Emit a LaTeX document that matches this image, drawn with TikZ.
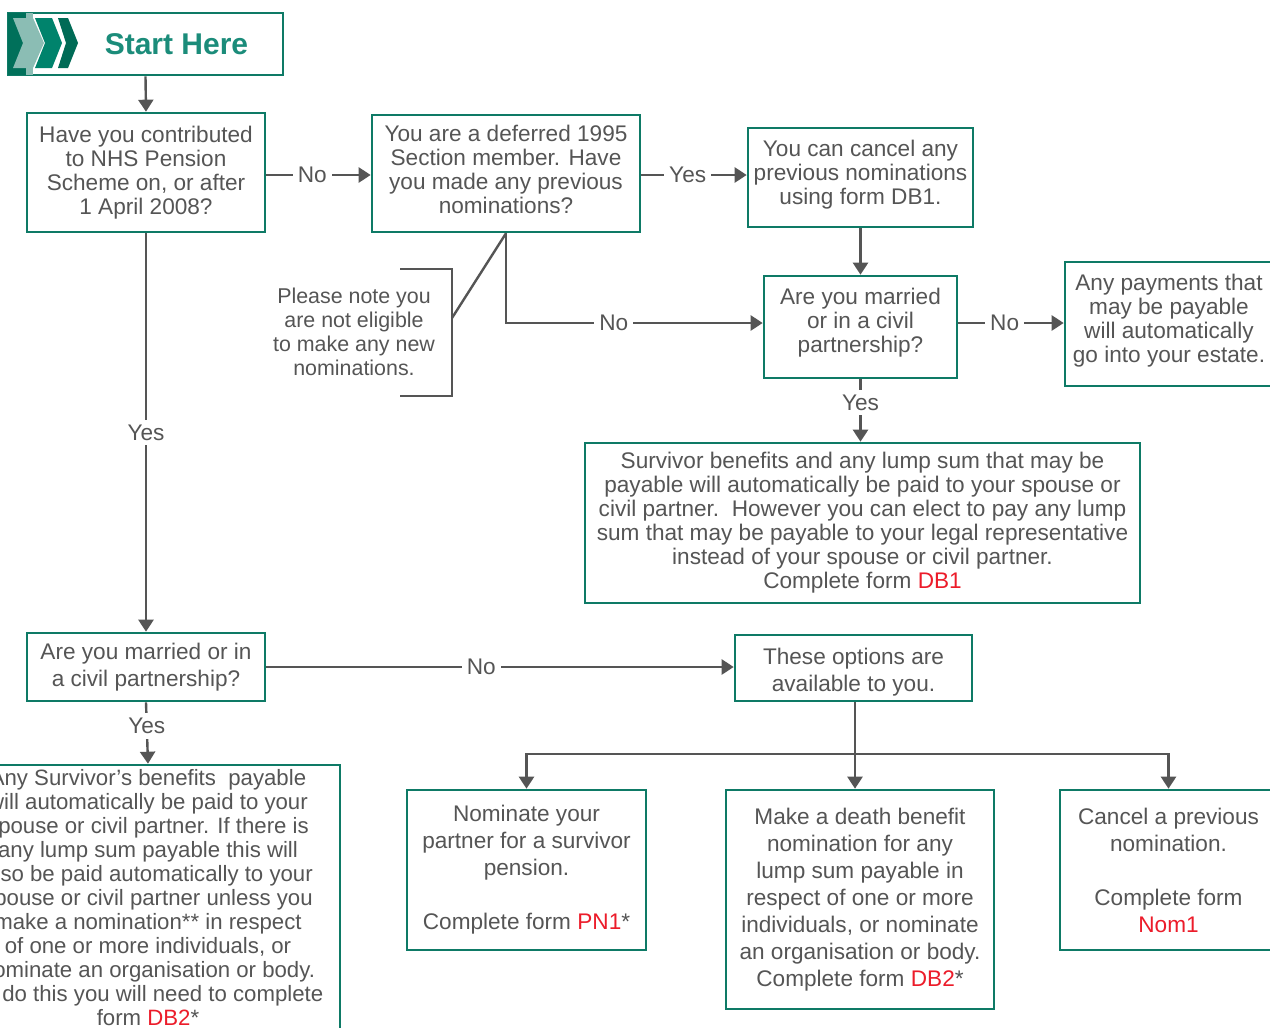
\documentclass[tikz,border=0pt]{standalone}
\usepackage{fontspec}
\setmainfont{Liberation Sans}
\usetikzlibrary{arrows.meta,calc}
\definecolor{bgreen}{HTML}{0E7A66}
\definecolor{tgray}{HTML}{555555}
\definecolor{agray}{HTML}{555555}
\definecolor{fred}{HTML}{EC1C2A}
\definecolor{sgreen}{HTML}{1B8C7A}
\definecolor{cdark}{HTML}{00705A}
\definecolor{clight}{HTML}{8BBDB4}
\definecolor{cmid}{HTML}{00836C}
\definecolor{cdeep}{HTML}{006B56}
\newcommand{\frm}[1]{\textcolor{fred}{#1}}
\tikzset{
  box/.style={draw=bgreen, line width=2.6pt, fill=white, text=tgray, align=center,
    inner sep=0pt, font=\fontsize{22.6}{24}\selectfont},
  boxb/.style={box, font=\fontsize{22.6}{27}\selectfont},
  arr/.style={draw=agray, line width=2.4pt, -{Triangle[width=15pt,length=12pt]}},
  plain/.style={draw=agray, line width=2.4pt},
  lab/.style={fill=white, text=tgray, inner sep=5pt, font=\fontsize{22.6}{24}\selectfont},
  note/.style={text=tgray, align=center, inner sep=0pt, font=\fontsize{21.4}{24}\selectfont}
}
\begin{document}
\begin{tikzpicture}[x=1pt,y=-1pt]
\useasboundingbox (0,0) rectangle (1270,1028);
\clip (0,0) rectangle (1270,1028);
\fill[white] (0,0) rectangle (1270,1028);

% Start Here
\node[box, minimum width=275pt, minimum height=62pt, text=sgreen,
  font=\fontsize{30}{36}\bfseries] (start) at (145.5,44) {\hspace*{62pt}Start Here};
\fill[cdark] (8,13) rectangle (26,75);
\fill[clight] (26,13) rectangle (33,75);
\fill[clight] (13,18) -- (33,18) -- (44,43) -- (33,68) -- (13,68) -- (23,43) -- cycle;
\fill[cmid] (35,18) -- (52,18) -- (62,43) -- (52,68) -- (35,68) -- (45,43) -- cycle;
\fill[cdeep] (58,18) -- (68,18) -- (78,43) -- (68,68) -- (58,68) -- (66,43) -- cycle;

% Boxes
\node[box, minimum width=238pt, minimum height=119pt] (A) at (146,172.5)
  {Have you contributed\\to NHS Pension\\Scheme on, or after\\1 April 2008?};
\node[box, minimum width=268pt, minimum height=117pt] (B) at (506,173.5)
  {You are a deferred 1995\\Section member. Have\\you made any previous\\nominations?\\[-16pt]};
\node[box, minimum width=225pt, minimum height=99pt] (C) at (860.5,177.5)
  {You can cancel any\\previous nominations\\using form DB1.\\[-13pt]};
\node[box, minimum width=193pt, minimum height=102pt] (D) at (860.5,327)
  {Are you married\\or in a civil\\partnership?\\[-10pt]};
\node[box, minimum width=208pt, minimum height=124pt] (E) at (1169,324)
  {Any payments that\\may be payable\\will automatically\\go into your estate.\\[-12pt]};
\node[box, minimum width=555pt, minimum height=160pt] (F) at (862.5,523)
  {Survivor benefits and any lump sum that may be\\payable will automatically be paid to your spouse or\\civil partner.\ \ However you can elect to pay any lump\\sum that may be payable to your legal representative\\instead of your spouse or civil partner.\\Complete form \frm{DB1}};
\node[boxb, minimum width=238pt, minimum height=68pt] (G) at (146,667)
  {Are you married or in\\a civil partnership?};
\node[boxb, minimum width=237pt, minimum height=66pt] (H) at (853.5,668)
  {\rule{0pt}{25pt}These options are\\available to you.};
\node[boxb, minimum width=239pt, minimum height=160pt] (I) at (526.5,870)
  {Nominate your\\partner for a survivor\\pension.\\[27pt]Complete form \frm{PN1}*};
\node[boxb, minimum width=268pt, minimum height=219pt] (J) at (860,899.5)
  {Make a death benefit\\nomination for any\\lump sum payable in\\respect of one or more\\individuals, or nominate\\an organisation or body.\\Complete form \frm{DB2}*};
\node[boxb, minimum width=217pt, minimum height=160pt] (K) at (1168.5,870)
  {Cancel a previous\\nomination.\\[27pt]Complete form\\\frm{Nom1}};
\node[box, minimum width=384pt, minimum height=272pt, font=\fontsize{22.2}{24}\selectfont] (L) at (148,901)
  {Any Survivor’s benefits\ \ payable\\will automatically be paid to your\\spouse or civil partner. If there is\\any lump sum payable this will\\also be paid automatically to your\\spouse or civil partner unless you\\make a nomination** in respect\\of one or more individuals, or\\nominate an organisation or body.\\To do this you will need to complete\\form \frm{DB2}*\\[-16pt]};

% Note and bracket
\node[note] (N) at (354,332)
  {Please note you\\are not eligible\\to make any new\\nominations.};
\coordinate (bt) at (400,269);
\coordinate (bm) at (452,318);
\coordinate (bb) at (400,396);
\draw[plain] (bt) -- (bt -| bm) -- (bb -| bm) -- (bb);
\draw[plain] (bm) -- (B.south);

% Connectors
\draw[arr] (start.south) -- (A.north);
\draw[arr] (A.east |- 0,175) -- (B.west |- 0,175) node[lab, pos=0.44] {No};
\draw[arr] (B.east |- 0,175) -- (C.west |- 0,175) node[lab, pos=0.44] {Yes};
\draw[arr] (C.south) -- (D.north);
\draw[arr] (B.south) |- (D.west |- 0,323) node[lab, pos=0.71] {No};
\draw[arr] (D.east |- 0,323) -- (E.west |- 0,323) node[lab, pos=0.44] {No};
\draw[arr] (D.south) -- (D.south |- F.north) node[lab, pos=0.37] {Yes};
\draw[arr] (A.south) -- (G.north) node[lab, pos=0.5] {Yes};
\draw[arr] (G.east) -- (G.east -| H.west) node[lab, pos=0.46] {No};
\draw[arr] (G.south) -- (L.north) node[lab, pos=0.38] {Yes};
\coordinate (hub) at (855,754);
\draw[arr] (H.south -| hub) -- (hub |- J.north);
\draw[arr] (hub) -| (I.north);
\draw[arr] (hub) -| (K.north);
\end{tikzpicture}
\end{document}
